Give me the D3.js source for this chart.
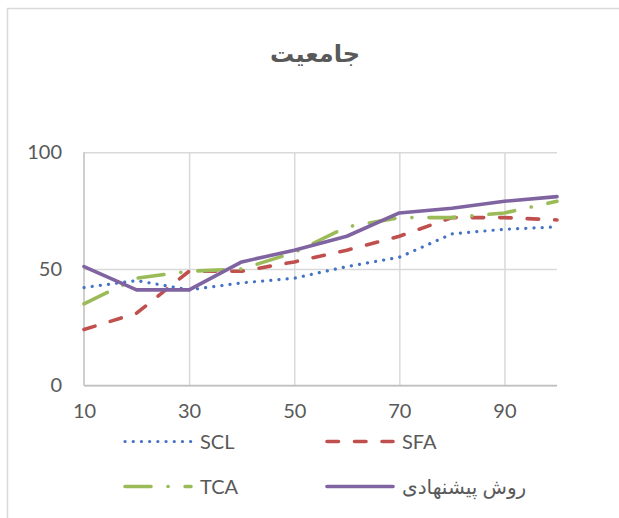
<!DOCTYPE html>
<html>
<head>
<meta charset="utf-8">
<script src="https://cdn.jsdelivr.net/npm/d3@7/dist/d3.min.js"></script>
<style>
  html, body { margin: 0; padding: 0; background: #fff; }
  svg { display: block; }
  text { font-family: Lato, "Liberation Sans", "DejaVu Sans", sans-serif; fill: #595959; }
</style>
</head>
<body>
<svg id="chart" width="619" height="518"></svg>
<script>
// Sample sizes along the x axis
const categories = [10, 20, 30, 40, 50, 60, 70, 80, 90, 100];
const xTickLabels = [10, 30, 50, 70, 90];
const yTickLabels = [0, 50, 100];

// Coverage (جامعیت) per method
const sclValues = [42, 45, 41, 44, 46, 51, 55, 65, 67, 68];
const sfaValues = [24, 31, 49, 49, 53, 58, 64, 72, 72, 71];
const tcaValues = [35, 46, 49, 50, 57, 68, 72, 72, 74, 79];
const proposedValues = [51, 41, 41, 53, 58, 64, 74, 76, 79, 81];

const seriesNames = ["SCL", "SFA", "TCA", "روش پیشنهادی"];

const series = [
  { name: seriesNames[0], values: sclValues, color: "#4472C4", width: 3.2, dash: "0.1 8.1", cap: "round" },
  { name: seriesNames[1], values: sfaValues, color: "#C0504D", width: 3.6, dash: "11.5 16", cap: "round" },
  { name: seriesNames[2], values: tcaValues, color: "#9BBB59", width: 3.6, dash: "26 17 0.1 17", cap: "round" },
  { name: seriesNames[3], values: proposedValues, color: "#8064A2", width: 3.6, dash: null, cap: "round" }
];

const svg = d3.select("#chart");

// Outer chart frame
svg.append("rect")
  .attr("x", 7.5).attr("y", 8.5)
  .attr("width", 640).attr("height", 540)
  .attr("fill", "#fff")
  .attr("stroke", "#d9d9d9").attr("stroke-width", 1.5);

// Title
svg.append("text")
  .attr("x", 315).attr("y", 62)
  .attr("text-anchor", "middle")
  .attr("font-size", 24).attr("font-weight", "bold")
  .attr("direction", "rtl")
  .text("جامعیت");

const x = d3.scaleLinear().domain([10, 100]).range([84, 557]);
const y = d3.scaleLinear().domain([0, 100]).range([385.5, 152.3]);

const plot = svg.append("g");

// Horizontal gridlines
plot.append("g")
  .call(d3.axisLeft(y).tickValues(yTickLabels).tickSize(-(x.range()[1] - x.range()[0])).tickFormat(""))
  .attr("transform", `translate(${x.range()[0]},0)`)
  .call(g => g.select(".domain").remove())
  .call(g => g.selectAll("line").attr("stroke", "#d9d9d9").attr("stroke-width", 1.5));

// Vertical gridlines
plot.append("g")
  .call(d3.axisBottom(x).tickValues(xTickLabels.slice(1)).tickSize(-(y.range()[0] - y.range()[1])).tickFormat(""))
  .attr("transform", `translate(0,${y.range()[0]})`)
  .call(g => g.select(".domain").remove())
  .call(g => g.selectAll("line").attr("stroke", "#d9d9d9").attr("stroke-width", 1.5));

// Axis lines
plot.append("line")
  .attr("x1", x.range()[0]).attr("x2", x.range()[0])
  .attr("y1", y.range()[1]).attr("y2", y.range()[0])
  .attr("stroke", "#bfbfbf").attr("stroke-width", 1.5);
plot.append("line")
  .attr("x1", x.range()[0]).attr("x2", x.range()[1])
  .attr("y1", y.range()[0]).attr("y2", y.range()[0])
  .attr("stroke", "#bfbfbf").attr("stroke-width", 1.5);

// Y tick labels
const yAxis = plot.append("g")
  .attr("transform", `translate(${x.range()[0]},0)`)
  .call(d3.axisLeft(y).tickValues(yTickLabels).tickSize(0).tickPadding(22));
yAxis.select(".domain").remove();
yAxis.selectAll("text").attr("font-size", 20).attr("font-family", null).attr("fill", "#595959");

// X tick labels
const xAxis = plot.append("g")
  .attr("transform", `translate(0,${y.range()[0]})`)
  .call(d3.axisBottom(x).tickValues(xTickLabels).tickSize(0).tickPadding(18));
xAxis.select(".domain").remove();
xAxis.selectAll("text").attr("font-size", 20).attr("font-family", null).attr("fill", "#595959");

// Series lines
const line = d3.line()
  .x((d, i) => x(categories[i]))
  .y(d => y(d));

series.forEach(s => {
  plot.append("path")
    .datum(s.values)
    .attr("d", line)
    .attr("fill", "none")
    .attr("stroke", s.color)
    .attr("stroke-width", s.width)
    .attr("stroke-linecap", s.cap)
    .attr("stroke-linejoin", "round")
    .attr("stroke-dasharray", s.dash);
});

// Legend
const legendPos = [
  { lx: 125, ly: 441.5 }, { lx: 327, ly: 441.5 },
  { lx: 125, ly: 486.5 }, { lx: 327, ly: 486.5 }
];
series.forEach((s, i) => {
  const p = legendPos[i];
  const g = svg.append("g").attr("transform", `translate(${p.lx},${p.ly})`);
  g.append("line")
    .attr("x1", 0).attr("x2", 66)
    .attr("stroke", s.color)
    .attr("stroke-width", s.width)
    .attr("stroke-linecap", s.cap)
    .attr("stroke-dasharray", s.dash);
  g.append("text")
    .attr("x", 75).attr("y", 7)
    .attr("font-size", 20)
    .attr("text-anchor", "start")
    .text(s.name);
});
</script>
</body>
</html>
